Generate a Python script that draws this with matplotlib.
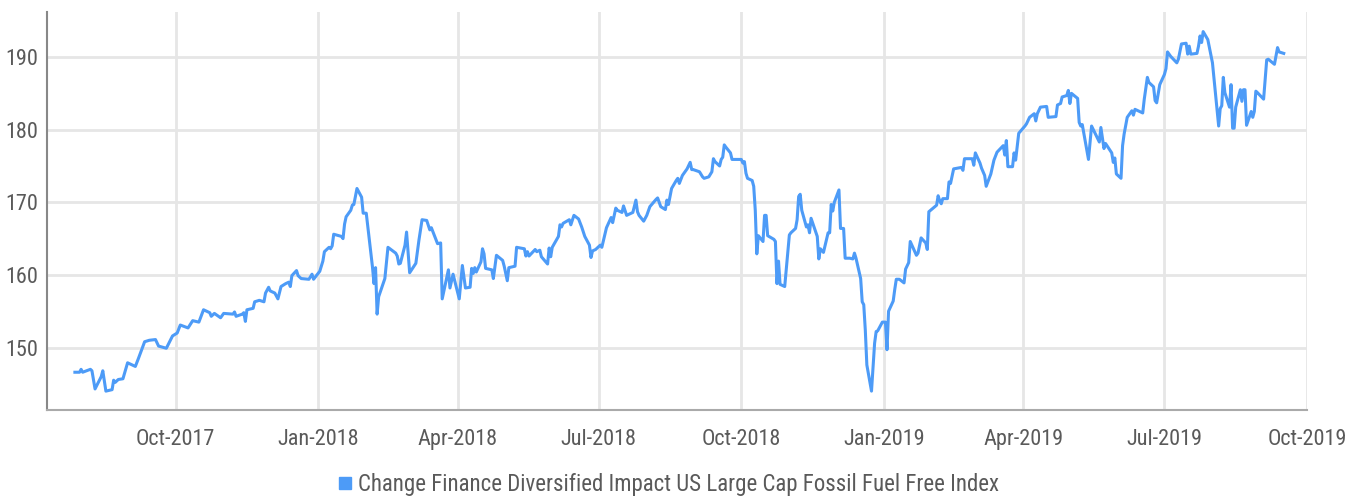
import matplotlib
matplotlib.use("Agg")
import matplotlib.pyplot as plt
from matplotlib.lines import Line2D
import pandas as pd

plt.rcParams['font.family'] = ['DejaVu Sans Condensed', 'Liberation Sans Narrow', 'Roboto Condensed',
                               'Roboto', 'DejaVu Sans']

series_name = "Change Finance Diversified Impact US Large Cap Fossil Fuel Free Index"

dates = [
    "2017-07-28", "2017-07-31", "2017-08-01", "2017-08-02", "2017-08-07", "2017-08-08", "2017-08-10",
    "2017-08-14", "2017-08-15", "2017-08-17", "2017-08-21", "2017-08-22", "2017-08-23", "2017-08-25",
    "2017-08-28", "2017-08-31", "2017-09-05", "2017-09-07", "2017-09-11", "2017-09-14", "2017-09-18",
    "2017-09-20", "2017-09-25", "2017-09-29", "2017-10-02", "2017-10-04", "2017-10-09", "2017-10-12",
    "2017-10-16", "2017-10-19", "2017-10-23", "2017-10-24", "2017-10-26", "2017-10-30", "2017-11-01",
    "2017-11-07", "2017-11-08", "2017-11-09", "2017-11-13", "2017-11-14", "2017-11-15", "2017-11-16",
    "2017-11-20", "2017-11-21", "2017-11-24", "2017-11-27", "2017-11-28", "2017-11-30", "2017-12-01",
    "2017-12-04", "2017-12-06", "2017-12-08", "2017-12-11", "2017-12-13", "2017-12-14", "2017-12-15",
    "2017-12-18", "2017-12-19", "2017-12-21", "2017-12-26", "2017-12-28", "2017-12-29",
    "2018-01-02", "2018-01-04", "2018-01-05", "2018-01-08", "2018-01-09", "2018-01-10", "2018-01-11",
    "2018-01-16", "2018-01-17", "2018-01-18", "2018-01-19", "2018-01-22", "2018-01-23", "2018-01-24",
    "2018-01-26", "2018-01-29", "2018-01-30", "2018-02-01", "2018-02-05", "2018-02-06", "2018-02-07",
    "2018-02-08", "2018-02-09", "2018-02-13", "2018-02-15", "2018-02-20", "2018-02-21", "2018-02-22",
    "2018-02-23", "2018-02-26", "2018-02-27", "2018-03-01", "2018-03-05", "2018-03-07", "2018-03-09",
    "2018-03-12", "2018-03-14", "2018-03-15", "2018-03-19", "2018-03-21", "2018-03-22", "2018-03-26",
    "2018-03-27", "2018-03-29", "2018-04-02", "2018-04-04", "2018-04-06", "2018-04-09", "2018-04-10",
    "2018-04-11", "2018-04-12", "2018-04-13", "2018-04-16", "2018-04-17", "2018-04-18", "2018-04-19",
    "2018-04-23", "2018-04-24", "2018-04-26", "2018-04-30", "2018-05-01", "2018-05-03", "2018-05-04",
    "2018-05-08", "2018-05-09", "2018-05-14", "2018-05-15", "2018-05-16", "2018-05-17", "2018-05-21",
    "2018-05-22", "2018-05-24", "2018-05-25", "2018-05-29", "2018-05-30", "2018-05-31", "2018-06-01",
    "2018-06-05", "2018-06-06", "2018-06-07", "2018-06-08", "2018-06-12", "2018-06-13", "2018-06-15",
    "2018-06-18", "2018-06-20", "2018-06-22", "2018-06-25", "2018-06-26", "2018-06-27", "2018-06-29",
    "2018-07-02", "2018-07-03", "2018-07-06", "2018-07-09", "2018-07-10", "2018-07-12", "2018-07-13",
    "2018-07-16", "2018-07-17", "2018-07-19", "2018-07-23", "2018-07-25", "2018-07-26", "2018-07-27",
    "2018-07-30", "2018-08-01", "2018-08-03", "2018-08-07", "2018-08-08", "2018-08-10", "2018-08-13",
    "2018-08-14", "2018-08-15", "2018-08-17", "2018-08-20", "2018-08-21", "2018-08-22", "2018-08-24",
    "2018-08-27", "2018-08-29", "2018-08-30", "2018-08-31", "2018-09-04", "2018-09-06", "2018-09-07",
    "2018-09-10", "2018-09-12", "2018-09-13", "2018-09-14", "2018-09-17", "2018-09-18", "2018-09-19",
    "2018-09-20", "2018-09-21", "2018-09-24", "2018-09-25", "2018-09-28", "2018-10-01", "2018-10-02",
    "2018-10-03", "2018-10-04", "2018-10-05", "2018-10-08", "2018-10-09", "2018-10-10", "2018-10-11",
    "2018-10-12", "2018-10-15", "2018-10-16", "2018-10-17", "2018-10-18", "2018-10-22", "2018-10-23",
    "2018-10-24", "2018-10-25", "2018-10-26", "2018-10-29", "2018-11-01", "2018-11-02", "2018-11-05",
    "2018-11-06", "2018-11-07", "2018-11-08", "2018-11-09", "2018-11-12", "2018-11-13", "2018-11-14",
    "2018-11-15", "2018-11-19", "2018-11-20", "2018-11-21", "2018-11-23", "2018-11-26", "2018-11-27",
    "2018-11-28", "2018-11-29", "2018-11-30", "2018-12-03", "2018-12-04", "2018-12-06", "2018-12-07",
    "2018-12-10", "2018-12-12", "2018-12-13", "2018-12-14", "2018-12-17", "2018-12-18", "2018-12-19",
    "2018-12-20", "2018-12-21", "2018-12-24", "2018-12-26", "2018-12-27", "2018-12-28", "2018-12-31",
    "2019-01-02", "2019-01-03", "2019-01-04", "2019-01-07", "2019-01-08", "2019-01-09", "2019-01-11",
    "2019-01-14", "2019-01-15", "2019-01-17", "2019-01-18", "2019-01-22", "2019-01-23", "2019-01-25",
    "2019-01-28", "2019-01-29", "2019-01-30", "2019-02-04", "2019-02-05", "2019-02-06", "2019-02-07",
    "2019-02-08", "2019-02-11", "2019-02-12", "2019-02-13", "2019-02-15", "2019-02-20", "2019-02-21",
    "2019-02-22", "2019-02-27", "2019-02-28", "2019-03-01", "2019-03-04", "2019-03-05", "2019-03-07",
    "2019-03-08", "2019-03-11", "2019-03-13", "2019-03-15", "2019-03-19", "2019-03-20", "2019-03-21",
    "2019-03-22", "2019-03-25", "2019-03-26", "2019-03-27", "2019-03-28", "2019-03-29", "2019-04-02",
    "2019-04-03", "2019-04-05", "2019-04-08", "2019-04-09", "2019-04-10", "2019-04-12", "2019-04-16",
    "2019-04-17", "2019-04-22", "2019-04-23", "2019-04-25", "2019-04-26", "2019-04-29", "2019-04-30",
    "2019-05-01", "2019-05-02", "2019-05-06", "2019-05-07", "2019-05-08", "2019-05-09", "2019-05-13",
    "2019-05-15", "2019-05-20", "2019-05-21", "2019-05-23", "2019-05-24", "2019-05-28", "2019-05-29",
    "2019-05-30", "2019-05-31", "2019-06-03", "2019-06-04", "2019-06-05", "2019-06-07", "2019-06-10",
    "2019-06-11", "2019-06-12", "2019-06-17", "2019-06-18", "2019-06-20", "2019-06-21", "2019-06-24",
    "2019-06-25", "2019-06-26", "2019-06-28", "2019-07-01", "2019-07-02", "2019-07-03", "2019-07-05",
    "2019-07-09", "2019-07-10", "2019-07-12", "2019-07-15", "2019-07-16", "2019-07-17", "2019-07-18",
    "2019-07-22", "2019-07-23", "2019-07-24", "2019-07-25", "2019-07-26", "2019-07-29", "2019-08-01",
    "2019-08-05", "2019-08-06", "2019-08-07", "2019-08-08", "2019-08-09", "2019-08-12", "2019-08-13",
    "2019-08-14", "2019-08-15", "2019-08-16", "2019-08-19", "2019-08-20", "2019-08-21", "2019-08-22",
    "2019-08-23", "2019-08-26", "2019-08-27", "2019-08-28", "2019-08-29", "2019-08-30", "2019-09-03",
    "2019-09-05", "2019-09-06", "2019-09-10", "2019-09-12", "2019-09-13", "2019-09-16",
]

values = [
    146.6, 146.6, 147.0, 146.6, 147.0, 146.8, 144.3,
    146.0, 146.8, 144.0, 144.2, 145.5, 145.2, 145.6,
    145.7, 147.9, 147.4, 148.5, 150.8, 151.0, 151.1,
    150.2, 149.9, 151.6, 152.0, 153.1, 152.7, 153.7,
    153.5, 155.2, 154.8, 154.3, 154.7, 154.1, 154.7,
    154.6, 154.9, 154.3, 154.6, 154.8, 153.6, 155.2,
    155.4, 156.3, 156.5, 156.3, 157.5, 158.3, 157.8,
    157.5, 156.7, 158.4, 158.8, 159.0, 158.4, 159.9,
    160.6, 159.9, 159.5, 159.4, 160.1, 159.4,
    160.5, 161.9, 163.2, 163.8, 163.6, 164.0, 165.6,
    165.3, 165.0, 167.0, 168.0, 168.9, 169.6, 169.7,
    171.9, 170.7, 168.5, 168.5, 161.1, 158.8, 161.0,
    154.6, 157.0, 159.5, 163.8, 163.0, 162.6, 161.5,
    161.6, 164.1, 165.9, 160.3, 161.6, 164.8, 167.6,
    167.5, 166.2, 166.5, 164.3, 164.4, 156.7, 160.7,
    158.2, 160.1, 156.7, 161.3, 158.2, 158.3, 160.9,
    160.2, 161.0, 160.4, 161.8, 163.6, 162.9, 160.9,
    160.7, 159.5, 162.7, 162.0, 161.2, 159.2, 161.0,
    161.2, 163.8, 163.6, 162.6, 163.2, 162.6, 163.5,
    163.2, 163.4, 162.5, 161.5, 163.7, 162.5, 163.8,
    165.3, 166.9, 166.6, 167.1, 167.6, 166.9, 168.2,
    167.7, 166.6, 165.3, 164.1, 162.4, 163.3, 163.5,
    164.1, 163.8, 166.5, 167.9, 167.2, 169.2, 168.9,
    168.6, 169.5, 168.2, 168.6, 170.3, 168.7, 168.2,
    167.4, 168.2, 169.4, 170.4, 170.6, 169.4, 169.0,
    170.3, 169.7, 171.9, 173.0, 173.3, 172.6, 173.7,
    174.6, 175.5, 174.5, 174.5, 174.2, 173.5, 173.3,
    173.5, 174.2, 176.0, 175.6, 175.0, 175.9, 176.2,
    177.9, 177.6, 176.8, 175.9, 175.9, 175.9, 175.4,
    175.6, 174.0, 173.3, 173.0, 172.2, 168.9, 162.9,
    165.4, 164.6, 168.2, 168.2, 165.4, 164.9, 164.6,
    158.8, 161.9, 158.7, 158.4, 165.5, 165.8, 166.4,
    167.6, 170.8, 171.1, 168.9, 166.6, 166.9, 165.8,
    167.8, 165.3, 162.2, 163.6, 163.1, 165.8, 165.8,
    169.7, 168.8, 170.0, 171.7, 166.4, 166.4, 162.3,
    162.3, 162.2, 163.0, 162.3, 159.5, 156.3, 155.9,
    152.4, 147.6, 144.0, 150.6, 152.2, 152.3, 153.5,
    153.5, 149.7, 155.0, 156.4, 158.0, 159.4, 159.4,
    158.9, 160.8, 161.7, 164.6, 162.7, 163.0, 165.1,
    164.4, 163.5, 168.7, 169.6, 170.9, 170.2, 169.8,
    170.5, 170.5, 172.8, 172.6, 174.6, 174.8, 174.4,
    176.0, 176.0, 175.1, 176.8, 175.4, 174.7, 173.7,
    172.2, 173.9, 175.8, 176.9, 177.8, 176.5, 178.5,
    174.9, 174.9, 176.8, 175.8, 177.6, 179.5, 180.5,
    180.8, 181.7, 182.2, 181.2, 182.2, 183.1, 183.2,
    181.7, 181.8, 183.4, 183.6, 184.5, 184.7, 185.4,
    183.6, 185.0, 184.3, 181.0, 180.5, 180.7, 175.9,
    180.5, 178.3, 180.3, 177.4, 178.1, 176.8, 175.5,
    176.1, 173.9, 173.3, 177.8, 179.4, 181.7, 182.6,
    182.0, 182.8, 182.3, 184.2, 187.2, 186.5, 185.9,
    184.0, 183.7, 186.2, 187.6, 188.4, 190.7, 190.1,
    189.2, 189.7, 191.8, 191.9, 190.4, 191.5, 190.4,
    190.5, 191.5, 192.9, 192.0, 193.5, 192.4, 189.2,
    180.5, 182.9, 183.3, 187.2, 185.1, 183.1, 186.2,
    180.2, 180.2, 183.1, 185.5, 183.9, 185.5, 185.5,
    180.6, 182.5, 181.7, 182.5, 185.3, 185.1, 184.2,
    189.6, 189.7, 189.0, 191.3, 190.7, 190.5,
]

y_ticks = [150, 160, 170, 180, 190]
x_tick_dates = ["2017-10-01", "2018-01-01", "2018-04-01", "2018-07-01", "2018-10-01",
                "2019-01-01", "2019-04-01", "2019-07-01", "2019-10-01"]
x_tick_labels = ["Oct-2017", "Jan-2018", "Apr-2018", "Jul-2018", "Oct-2018",
                 "Jan-2019", "Apr-2019", "Jul-2019", "Oct-2019"]

line_color = "#4d9bf7"
text_color = "#5a5a5a"
grid_color = "#e6e6e6"

fig = plt.figure(figsize=(13.63, 4.97), dpi=100)
ax = fig.add_axes([47 / 1363, 1 - 410 / 497, (1307 - 47) / 1363, (410 - 12) / 497])

x = pd.to_datetime(dates)
ax.plot(x, values, color=line_color, lw=2.2, solid_joinstyle='round', zorder=3)

ax.set_xlim(pd.Timestamp("2017-07-10"), pd.Timestamp("2019-10-01"))
ax.set_ylim(141.4, 196.2)
ax.set_yticks(y_ticks)
ax.set_xticks(pd.to_datetime(x_tick_dates))
ax.set_xticklabels(x_tick_labels)

ax.grid(True, color=grid_color, lw=2.0, zorder=0)
ax.set_axisbelow(True)
for s in ["top", "right"]:
    ax.spines[s].set_visible(False)
ax.spines["left"].set_color("#888888")
ax.spines["left"].set_linewidth(1.5)
ax.spines["bottom"].set_color("#aaaaaa")
ax.spines["bottom"].set_linewidth(1.5)

ax.tick_params(axis='y', length=0, labelsize=16, labelcolor=text_color, pad=6)
ax.tick_params(axis='x', length=0, labelsize=16, labelcolor=text_color, pad=14)

handle = Line2D([], [], marker='s', color=line_color, linestyle='none', markersize=8)
fig.legend([handle], [series_name], loc='center', bbox_to_anchor=(0.49, 1 - 485 / 497),
           frameon=False, fontsize=16.5, handlelength=0.7, handletextpad=0.2, labelcolor=text_color,
           borderaxespad=0, borderpad=0)

fig.savefig("out.png", dpi=100)
